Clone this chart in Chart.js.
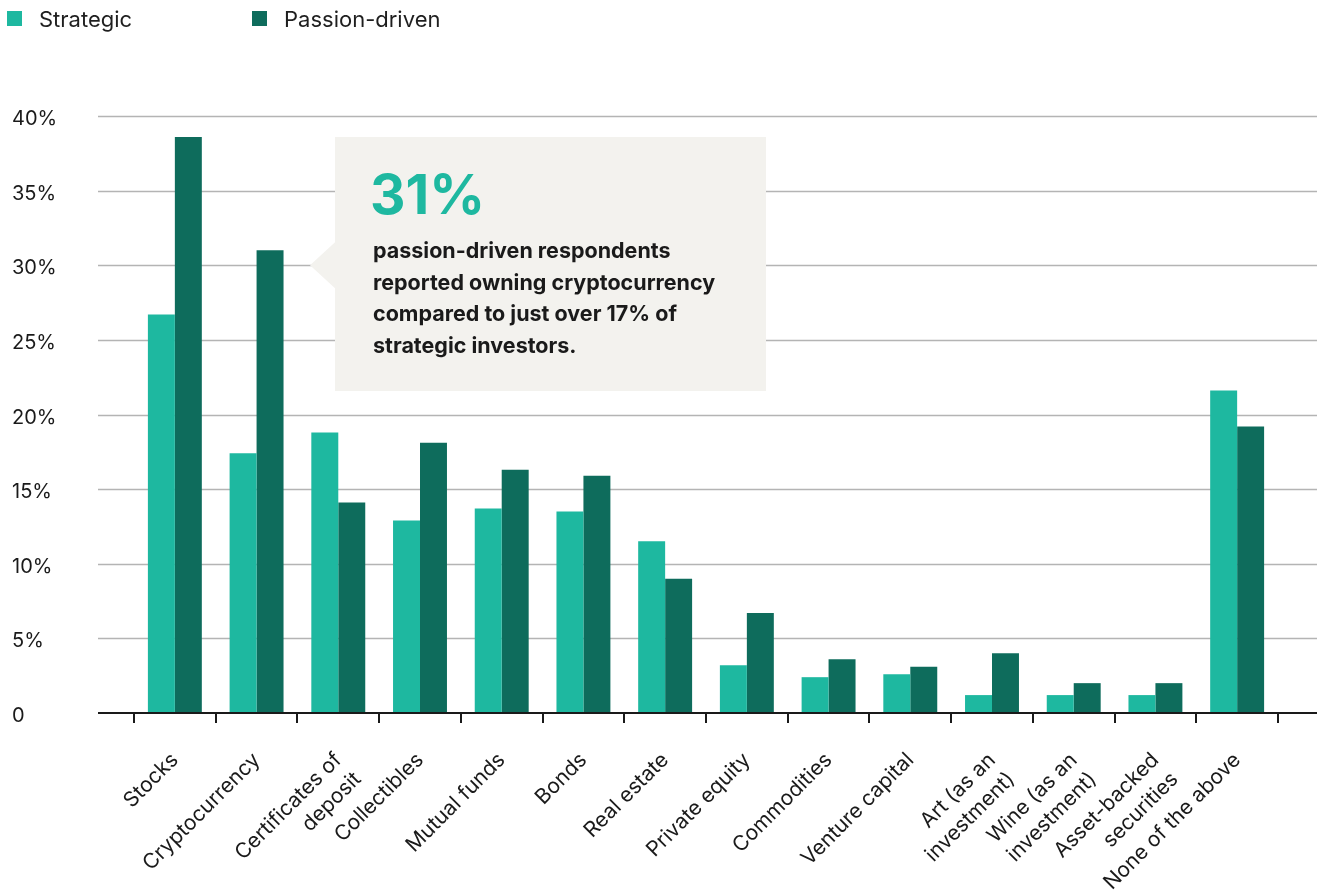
<!DOCTYPE html>
<html lang="en">
  <head>
    <meta charset="UTF-8" />
    <title>Investment Ownership</title>
    <script src="https://cdn.jsdelivr.net/npm/chart.js"></script>
    <style>
      html, body { margin: 0; padding: 0; background: #fff; }
      #wrap { position: relative; width: 1317px; height: 895px; font-family: Inter, "Noto Sans", sans-serif; }
      .legend { position: absolute; top: 6px; font-size: 22px; color: #1f1f1f; line-height: 26px; }
      .legend span { position: absolute; top: 5px; width: 15px; height: 15px; }
      .legend div { position: absolute; white-space: nowrap; }
    </style>
  </head>
  <body>
    <div id="wrap">
      <div class="legend" style="left: 7px"><span style="left: 0; background: #1eb8a0"></span><div style="left: 32px">Strategic</div></div>
      <div class="legend" style="left: 252px"><span style="left: 0; background: #0e6c5c"></span><div style="left: 32px">Passion-driven</div></div>
      <canvas id="ownershipChart" width="1317" height="895"></canvas>
    </div>

    <script>
      const categories = [
        "Stocks", "Cryptocurrency", ["Certificates of", "deposit"], "Collectibles",
        "Mutual funds", "Bonds", "Real estate", "Private equity", "Commodities",
        "Venture capital", ["Art (as an", "investment)"], ["Wine (as an", "investment)"],
        ["Asset-backed", "securities"], "None of the above",
      ];
      const strategic = [26.7, 17.4, 18.8, 12.9, 13.7, 13.5, 11.5, 3.2, 2.4, 2.6, 1.2, 1.2, 1.2, 21.6];
      const passionDriven = [38.6, 31, 14.1, 18.1, 16.3, 15.9, 9.0, 6.7, 3.6, 3.1, 4.0, 2.0, 2.0, 19.2];
      const yTicks = [0, 5, 10, 15, 20, 25, 30, 35, 40];

      const FONT = "Inter, 'Noto Sans', sans-serif";
      const LINE_LEFT = 98;

      // horizontal rules and the base line run wider than the category band
      const gridPlugin = {
        id: "wideGrid",
        beforeDatasetsDraw(chart) {
          const { ctx, scales, width } = chart;
          ctx.save();
          ctx.strokeStyle = "#b4b4b4";
          ctx.lineWidth = 1.5;
          yTicks.forEach((t) => {
            if (t === 0) return;
            const y = Math.round(scales.y.getPixelForValue(t)) + 0.5;
            ctx.beginPath();
            ctx.moveTo(LINE_LEFT, y);
            ctx.lineTo(width, y);
            ctx.stroke();
          });
          ctx.restore();
        },
        afterDatasetsDraw(chart) {
          const { ctx, scales, width } = chart;
          const y = scales.y.getPixelForValue(0);
          ctx.save();
          ctx.strokeStyle = "#1a1a1a";
          ctx.lineWidth = 2;
          ctx.beginPath();
          ctx.moveTo(LINE_LEFT, y);
          ctx.lineTo(width, y);
          ctx.stroke();
          ctx.restore();
        },
      };

      // callout box pointing at the cryptocurrency bars
      const calloutPlugin = {
        id: "callout",
        afterDraw(chart) {
          const { ctx, scales } = chart;
          const tipY = scales.y.getPixelForValue(30);
          const left = 335, top = 137, right = 766, bottom = 391;
          ctx.save();
          ctx.fillStyle = "#f3f2ee";
          ctx.fillRect(left, top, right - left, bottom - top);
          ctx.beginPath();
          ctx.moveTo(left, tipY - 23);
          ctx.lineTo(310, tipY);
          ctx.lineTo(left, tipY + 23);
          ctx.closePath();
          ctx.fill();

          ctx.fillStyle = "#1eb8a0";
          ctx.font = "bold 55px " + FONT;
          ctx.textBaseline = "alphabetic";
          ctx.fillText("31%", 370, 214);

          ctx.fillStyle = "#1a1a1a";
          ctx.font = "bold 21.5px " + FONT;
          const lines = [
            "passion-driven respondents",
            "reported owning cryptocurrency",
            "compared to just over 17% of",
            "strategic investors.",
          ];
          lines.forEach((l, i) => ctx.fillText(l, 373, 258 + i * 31.7));
          ctx.restore();
        },
      };

      new Chart(document.getElementById("ownershipChart"), {
        type: "bar",
        data: {
          labels: categories,
          datasets: [
            {
              label: "Strategic",
              data: strategic,
              backgroundColor: "#1eb8a0",
              categoryPercentage: 0.66,
              barPercentage: 1,
            },
            {
              label: "Passion-driven",
              data: passionDriven,
              backgroundColor: "#0e6c5c",
              categoryPercentage: 0.66,
              barPercentage: 1,
            },
          ],
        },
        options: {
          responsive: false,
          animation: false,
          layout: { padding: { left: 12, right: 39, top: 116, bottom: 0 } },
          plugins: { legend: { display: false }, tooltip: { enabled: false } },
          scales: {
            x: {
              grid: {
                offset: true,
                drawOnChartArea: false,
                drawTicks: true,
                tickLength: 10,
                color: "#1a1a1a",
                lineWidth: 2,
              },
              border: { display: false },
              ticks: {
                minRotation: 45,
                maxRotation: 45,
                autoSkip: false,
                color: "#1a1a1a",
                padding: 24,
                font: { family: FONT, size: 21, lineHeight: 1.3 },
              },
              afterFit(scale) {
                scale.height = 182;
              },
            },
            y: {
              min: 0,
              max: 40,
              grid: { display: false },
              border: { display: false },
              afterBuildTicks(scale) {
                scale.ticks = yTicks.map((v) => ({ value: v }));
              },
              ticks: {
                crossAlign: "far",
                labelOffset: 3,
                color: "#1a1a1a",
                font: { family: FONT, size: 20 },
                callback: (v) => (v === 0 ? "0" : v + "%"),
              },
              afterFit(scale) {
                scale.width = 122;
              },
            },
          },
        },
        plugins: [gridPlugin, calloutPlugin],
      });
    </script>
  </body>
</html>
